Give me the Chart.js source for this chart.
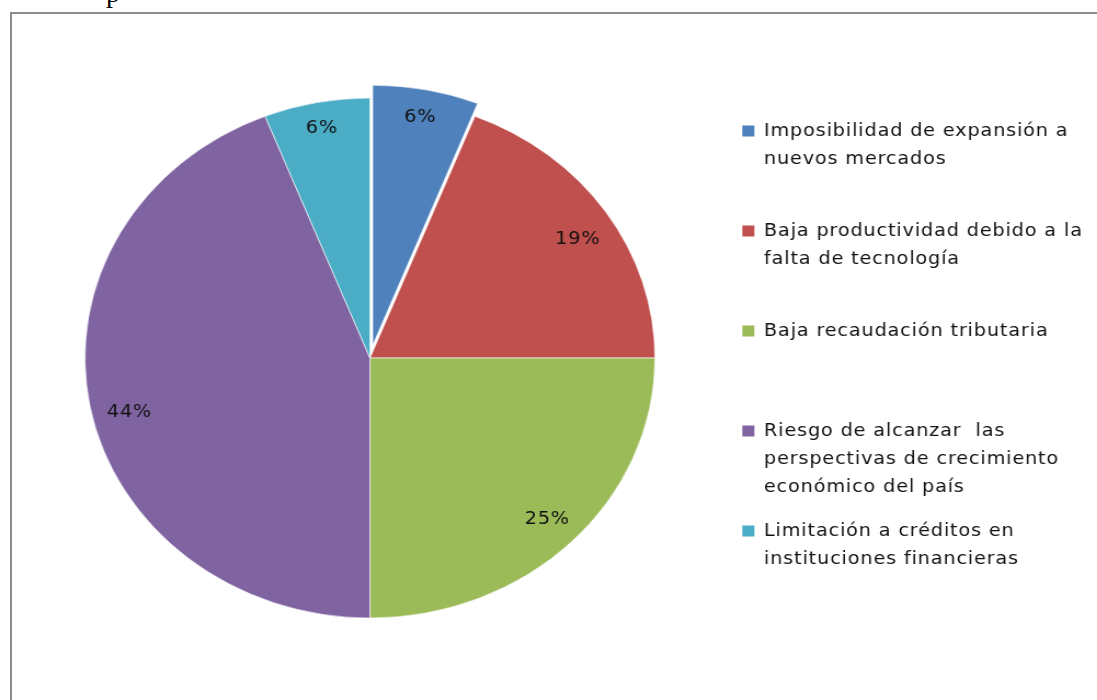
<!DOCTYPE html>
<html>
<head>
<meta charset="utf-8">
<script src="https://cdn.jsdelivr.net/npm/chart.js@4/dist/chart.umd.min.js"></script>
<style>
  html, body { margin: 0; padding: 0; background: #ffffff; overflow: hidden; }
  body { width: 1097px; height: 700px; position: relative; }
  #frame { position: absolute; left: 10px; top: 12px; width: 1200px; height: 800px;
           border-left: 2px solid #8c8c8c; border-top: 2px solid #8c8c8c; }
  #cut { position: absolute; left: 106px; top: -21px; font: 28px 'Liberation Serif', serif;
         line-height: 28px; color: #000; }
  #wrap { position: absolute; left: 0; top: 0; width: 1001px; height: 700px;
          transform: scaleX(1.096); transform-origin: 0 0; }
</style>
</head>
<body>
<div id="cut">p</div>
<div id="frame"></div>
<div id="wrap"><canvas id="c" width="1001" height="700"></canvas></div>
<script>
// ---- data ----
const categories = [
  ['Imposibilidad de expansión a', 'nuevos mercados'],
  ['Baja productividad debido a la', 'falta de tecnología'],
  ['Baja recaudación tributaria'],
  ['Riesgo de alcanzar  las', 'perspectivas de crecimiento', 'económico del país'],
  ['Limitación a créditos en', 'instituciones financieras']
];
const percentages = [6, 19, 25, 44, 6];
const sliceColors = ['#4F81BD', '#C0504D', '#9BBB59', '#8064A2', '#4BACC6'];
const explodedSlices = [true, false, false, false, false];

// ---- layout / style constants ----
const SCALE_X = 1.096;
const CENTER = { x: 370 / SCALE_X, y: 358 };
const RADIUS = 260;
const EXPLODE = 13;
const FONT_FAMILY = "'DejaVu Sans', sans-serif";
const FONT_SIZE = 17.5;
const LETTER_SPACING = '0.8px';
const TEXT_COLOR = '#111111';
const LEGEND_BOX_LEFT = 677.3;
const LEGEND_FIRST_CENTER = 131;
const LEGEND_PAD = 16;
const LINES_PER_ITEM = 3;
const LABEL_RADIUS = [0.89, 0.86, 0.88, 0.87, 0.90];
const LABEL_ANGLE_SHIFT = [0, 2.2, 0, -3.2, 0];

const layoutPlugin = {
  id: 'fixedLayout',
  afterLayout(chart) {
    chart.chartArea = {
      left: CENTER.x - 300, right: CENTER.x + 300,
      top: CENTER.y - 300, bottom: CENTER.y + 300,
      width: 600, height: 600
    };
    const lg = chart.legend;
    if (lg) {
      lg.left = LEGEND_BOX_LEFT - LEGEND_PAD;
      lg.top = LEGEND_FIRST_CENTER - FONT_SIZE / 2 - LEGEND_PAD;
      lg.right = chart.width;
      lg.bottom = chart.height;
      lg.width = lg.right - lg.left;
      lg.height = lg.bottom - lg.top;
    }
  },
  afterDatasetsUpdate(chart) {
    const meta = chart.getDatasetMeta(0);
    meta.data.forEach((arc, i) => {
      if (explodedSlices[i]) {
        const mid = (arc.startAngle + arc.endAngle) / 2;
        arc.x += Math.cos(mid) * EXPLODE;
        arc.y += Math.sin(mid) * EXPLODE;
      }
    });
  },
  beforeDraw(chart) {
    if ('letterSpacing' in chart.ctx) chart.ctx.letterSpacing = LETTER_SPACING;
  }
};

const labelPlugin = {
  id: 'sliceLabels',
  afterDatasetsDraw(chart) {
    const ctx = chart.ctx;
    const meta = chart.getDatasetMeta(0);
    ctx.save();
    ctx.font = FONT_SIZE + 'px ' + FONT_FAMILY;
    ctx.fillStyle = TEXT_COLOR;
    ctx.textAlign = 'center';
    ctx.textBaseline = 'middle';
    meta.data.forEach((arc, i) => {
      const mid = (arc.startAngle + arc.endAngle) / 2 + LABEL_ANGLE_SHIFT[i] * Math.PI / 180;
      const r = arc.outerRadius * LABEL_RADIUS[i];
      ctx.fillText(percentages[i] + '%', arc.x + Math.cos(mid) * r, arc.y + Math.sin(mid) * r);
    });
    ctx.restore();
  }
};

new Chart(document.getElementById('c'), {
  type: 'pie',
  data: {
    labels: categories,
    datasets: [{
      data: percentages,
      backgroundColor: sliceColors,
      borderColor: '#ffffff',
      borderWidth: 0.6
    }]
  },
  options: {
    responsive: false,
    animation: false,
    radius: RADIUS,
    events: [],
    plugins: {
      tooltip: { enabled: false },
      legend: {
        display: true,
        position: 'right',
        align: 'start',
        labels: {
          boxWidth: 11,
          boxHeight: 11,
          padding: LEGEND_PAD,
          color: TEXT_COLOR,
          font: { family: FONT_FAMILY, size: FONT_SIZE, lineHeight: '28px' },
          generateLabels(chart) {
            const ds = chart.data.datasets[0];
            return chart.data.labels.map((lines, i) => ({
              text: lines.concat(Array(Math.max(0, LINES_PER_ITEM - lines.length)).fill('')),
              fillStyle: ds.backgroundColor[i],
              strokeStyle: ds.backgroundColor[i],
              lineWidth: 0,
              fontColor: TEXT_COLOR,
              hidden: false,
              index: i
            }));
          }
        }
      }
    }
  },
  plugins: [layoutPlugin, labelPlugin]
});
</script>
</body>
</html>
